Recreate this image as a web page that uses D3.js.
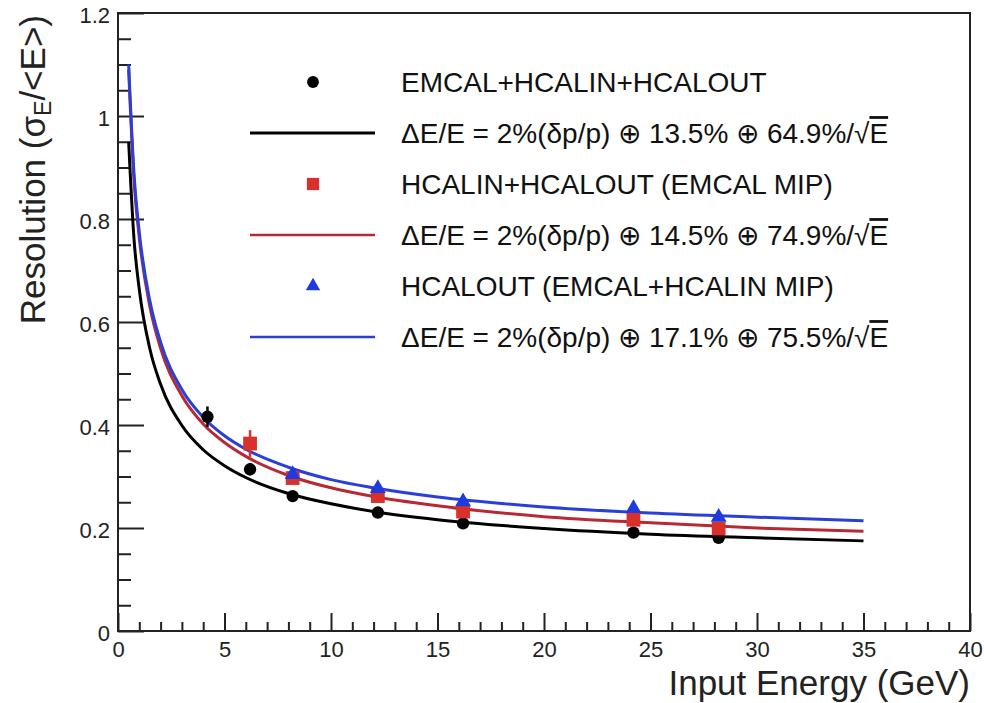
<!DOCTYPE html>
<html>
<head>
<meta charset="utf-8">
<script src="https://cdn.jsdelivr.net/npm/d3@7"></script>
<style>
  body { margin: 0; background: #fff; }
  svg { display: block; font-family: "Liberation Sans", Arial, Helvetica, sans-serif; }
  .tick text { font-size: 22px; fill: #222; }
  .axis-title { font-size: 35px; fill: #222; }
  .legend-text { font-size: 28px; fill: #111; }
</style>
</head>
<body>
<svg id="chart"></svg>
<script>
// measured points (energy in GeV, resolution)
const energies = [4.2, 6.2, 8.2, 12.2, 16.2, 24.2, 28.2];
const fullValues = [0.416, 0.314, 0.262, 0.230, 0.209, 0.191, 0.181];
const fullErrors = [0.020, 0.012, 0.008, 0.006, 0.006, 0.005, 0.005];
const hcalEnergies = [6.2, 8.2, 12.2, 16.2, 24.2, 28.2];
const hcalValues = [0.364, 0.297, 0.262, 0.232, 0.216, 0.199];
const hcalErrors = [0.026, 0.010, 0.008, 0.007, 0.006, 0.006];
const outEnergies = [8.2, 12.2, 16.2, 24.2, 28.2];
const outValues = [0.304, 0.277, 0.251, 0.238, 0.221];
const outErrors = [0.008, 0.007, 0.006, 0.006, 0.006];

// fit curves
const fitEnergies = [0.5, 0.75, 1, 1.5, 2, 3, 4, 5, 6, 8, 10, 12, 15, 20, 25, 30, 35];
const fullFit = [0.95, 0.762, 0.663, 0.547, 0.479, 0.399, 0.352, 0.321, 0.298, 0.267, 0.247, 0.232, 0.216, 0.199, 0.188, 0.181, 0.175];
const hcalFit = [1.09, 0.877, 0.763, 0.629, 0.549, 0.457, 0.402, 0.366, 0.339, 0.302, 0.278, 0.261, 0.243, 0.222, 0.210, 0.200, 0.1935];
const outFit = [1.10, 0.889, 0.774, 0.640, 0.561, 0.469, 0.415, 0.379, 0.353, 0.318, 0.294, 0.278, 0.260, 0.241, 0.229, 0.221, 0.214];

const xMajorTicks = [0, 5, 10, 15, 20, 25, 30, 35, 40];
const yMajorTicks = [0, 0.2, 0.4, 0.6, 0.8, 1, 1.2];

const legendLabels = [
  'EMCAL+HCALIN+HCALOUT',
  null, // formula, built below
  'HCALIN+HCALOUT (EMCAL MIP)',
  null,
  'HCALOUT (EMCAL+HCALIN MIP)',
  null
];
const fitTerms = [['13.5%', '64.9%'], ['14.5%', '74.9%'], ['17.1%', '75.5%']];

const config = {
  width: 984, height: 703,
  left: 118, right: 970, top: 13, bottom: 631
};
const colors = { full: '#000000', hcal: '#d8312b', hcalLine: '#b52a35', out: '#1f3be0', outLine: '#2a3fd8' };

const svg = d3.select('#chart')
  .attr('width', config.width)
  .attr('height', config.height);

const xScale = d3.scaleLinear().domain([0, 40]).range([config.left, config.right]);
const yScale = d3.scaleLinear().domain([0, 1.2]).range([config.bottom, config.top]);

// minor ticks
const xMinor = d3.range(0, 41, 1).filter(d => d % 5 !== 0);
const yMinor = d3.range(0, 1.2001, 0.05).filter(d => Math.abs(d * 5 - Math.round(d * 5)) > 1e-6);

svg.append('g')
  .attr('transform', `translate(0,${config.bottom})`)
  .call(d3.axisBottom(xScale).tickValues(xMinor).tickSize(-9).tickSizeOuter(0).tickFormat(''))
  .call(g => g.select('.domain').remove())
  .call(g => g.selectAll('line').attr('stroke', '#222').attr('stroke-width', 2));

svg.append('g')
  .attr('transform', `translate(0,${config.bottom})`)
  .call(d3.axisBottom(xScale).tickValues(xMajorTicks).tickSize(-18).tickSizeOuter(0).tickPadding(10).tickFormat(d3.format('d')))
  .call(g => g.select('.domain').remove())
  .call(g => g.selectAll('line').attr('stroke', '#222').attr('stroke-width', 2))
  .call(g => g.selectAll('text').attr('font-family', null).attr('font-size', null));

svg.append('g')
  .attr('transform', `translate(${config.left},0)`)
  .call(d3.axisLeft(yScale).tickValues(yMinor).tickSize(-13).tickSizeOuter(0).tickFormat(''))
  .call(g => g.select('.domain').remove())
  .call(g => g.selectAll('line').attr('stroke', '#222').attr('stroke-width', 2));

svg.append('g')
  .attr('transform', `translate(${config.left},0)`)
  .call(d3.axisLeft(yScale).tickValues(yMajorTicks).tickSize(-26).tickSizeOuter(0).tickPadding(8).tickFormat(d => d === 0 ? '0' : d3.format('~g')(d)))
  .call(g => g.select('.domain').remove())
  .call(g => g.selectAll('line').attr('stroke', '#222').attr('stroke-width', 2))
  .call(g => g.selectAll('text').attr('font-family', null).attr('font-size', null).attr('dy', '0.45em'));

// frame
svg.append('rect')
  .attr('x', config.left).attr('y', config.top)
  .attr('width', config.right - config.left)
  .attr('height', config.bottom - config.top)
  .attr('fill', 'none')
  .attr('stroke', '#222')
  .attr('stroke-width', 2);

// fit curves
const line = d3.line()
  .x(d => xScale(d[0]))
  .y(d => yScale(d[1]))
  .curve(d3.curveMonotoneX);

const fits = [
  { vals: hcalFit, color: colors.hcalLine, w: 3 },
  { vals: outFit, color: colors.outLine, w: 3 },
  { vals: fullFit, color: colors.full, w: 3 }
];
fits.forEach(f => {
  svg.append('path')
    .datum(fitEnergies.map((e, i) => [e, f.vals[i]]))
    .attr('fill', 'none')
    .attr('stroke', f.color)
    .attr('stroke-width', f.w)
    .attr('d', line);
});

// error bars + markers
function drawSeries(xs, ys, errs, color, shape, size) {
  const data = xs.map((e, i) => ({ e, v: ys[i], err: errs[i] }));
  const g = svg.append('g');
  g.selectAll('line.err')
    .data(data)
    .join('line')
    .attr('class', 'err')
    .attr('x1', d => xScale(d.e)).attr('x2', d => xScale(d.e))
    .attr('y1', d => yScale(d.v - d.err)).attr('y2', d => yScale(d.v + d.err))
    .attr('stroke', color)
    .attr('stroke-width', 2.5);
  g.selectAll('path.pt')
    .data(data)
    .join('path')
    .attr('class', 'pt')
    .attr('transform', d => `translate(${xScale(d.e)},${yScale(d.v)})`)
    .attr('d', d3.symbol().type(shape).size(size))
    .attr('fill', color);
}

drawSeries(energies, fullValues, fullErrors, colors.full, d3.symbolCircle, 120);
drawSeries(hcalEnergies, hcalValues, hcalErrors, colors.hcal, d3.symbolSquare, 190);
drawSeries(outEnergies, outValues, outErrors, colors.out, d3.symbolTriangle, 110);

// legend
const legendX = 401;
const rowY = d3.range(6).map(i => 82 + i * 51);
const legendMarkers = [
  { row: 0, shape: d3.symbolCircle, size: 110, color: colors.full },
  { row: 2, shape: d3.symbolSquare, size: 150, color: colors.hcal },
  { row: 4, shape: d3.symbolTriangle, size: 90, color: colors.out }
];
legendMarkers.forEach(m => {
  svg.append('path')
    .attr('transform', `translate(313,${rowY[m.row]})`)
    .attr('d', d3.symbol().type(m.shape).size(m.size))
    .attr('fill', m.color);
});
const legendLines = [
  { row: 1, color: colors.full, w: 3 },
  { row: 3, color: colors.hcalLine, w: 2.5 },
  { row: 5, color: colors.outLine, w: 2.5 }
];
legendLines.forEach(l => {
  svg.append('line')
    .attr('x1', 250).attr('x2', 375)
    .attr('y1', rowY[l.row]).attr('y2', rowY[l.row])
    .attr('stroke', l.color)
    .attr('stroke-width', l.w);
});

legendLabels.forEach((lab, i) => {
  const t = svg.append('text')
    .attr('class', 'legend-text')
    .attr('x', legendX)
    .attr('y', rowY[i])
    .attr('dy', '0.36em');
  if (lab !== null) {
    t.text(lab);
  } else {
    const terms = fitTerms[(i - 1) / 2];
    t.append('tspan').text(`\u0394E/E = 2%(\u03b4p/p) \u2295 ${terms[0]} \u2295 ${terms[1]}/\u221a`);
    t.append('tspan').style('text-decoration', 'overline').text('E');
  }
});

// axis titles
svg.append('text')
  .attr('class', 'axis-title')
  .attr('x', config.right)
  .attr('y', 695)
  .attr('text-anchor', 'end')
  .text('Input Energy (GeV)');

const yTitle = svg.append('text')
  .attr('class', 'axis-title')
  .attr('transform', `translate(45,${config.top + 2}) rotate(-90)`)
  .attr('text-anchor', 'end');
yTitle.append('tspan').text('Resolution (\u03c3');
yTitle.append('tspan').attr('dy', 6).style('font-size', '23px').text('E');
yTitle.append('tspan').attr('dy', -6).text('/<E>)');
</script>
</body>
</html>
